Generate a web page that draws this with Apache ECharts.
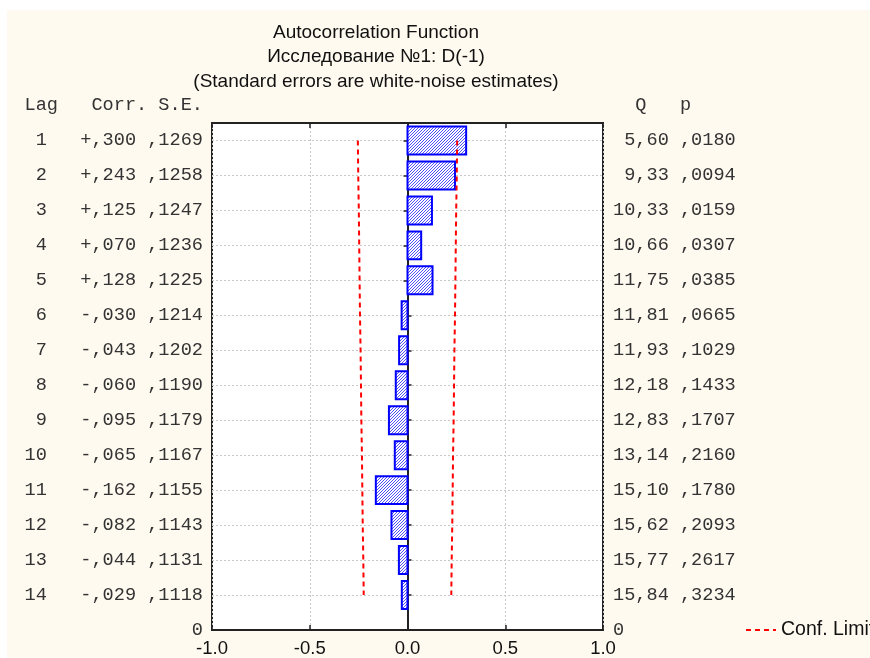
<!DOCTYPE html>
<html><head><meta charset="utf-8">
<script src="https://cdn.jsdelivr.net/npm/echarts@6/dist/echarts.min.js"></script>
<style>html,body{margin:0;padding:0;background:#fff}#c{width:870px;height:658px}</style>
</head><body><div id="c"></div>
<script>
const lags = [1,2,3,4,5,6,7,8,9,10,11,12,13,14];
const corr = [0.300,0.243,0.125,0.070,0.128,-0.030,-0.043,-0.060,-0.095,-0.065,-0.162,-0.082,-0.044,-0.029];
const corrText = ['+,300','+,243','+,125','+,070','+,128','-,030','-,043','-,060','-,095','-,065','-,162','-,082','-,044','-,029'];
const seText = [',1269',',1258',',1247',',1236',',1225',',1214',',1202',',1190',',1179',',1167',',1155',',1143',',1131',',1118'];
const qText = ['5,60','9,33','10,33','10,66','11,75','11,81','11,93','12,18','12,83','13,14','15,10','15,62','15,77','15,84'];
const pText = [',0180',',0094',',0159',',0307',',0385',',0665',',1029',',1433',',1707',',2160',',1780',',2093',',2617',',3234'];
const confUpper = [0.254,0.252,0.249,0.247,0.245,0.243,0.240,0.238,0.236,0.233,0.231,0.229,0.226,0.224];
const confLower = [-0.254,-0.252,-0.249,-0.247,-0.245,-0.243,-0.240,-0.238,-0.236,-0.233,-0.231,-0.229,-0.226,-0.224];
const xTicks = ['-1.0','-0.5','0.0','0.5','1.0'];
const titleLines = ['Autocorrelation Function','Исследование №1: D(-1)','(Standard errors are white-noise estimates)'];

const NROW = 15; // bottom row labelled 0
const pos = l => NROW - l;
const mono = "'Liberation Mono','Courier New',monospace";
const sans = "'Liberation Sans',Arial,sans-serif";

function pad(s, n){ s = String(s); while (s.length < n) s = ' ' + s; return s; }

const hatch = document.createElement('canvas');
hatch.width = 3; hatch.height = 3;
(function(){
  const g = hatch.getContext('2d');
  g.fillStyle = '#ffffff'; g.fillRect(0,0,3,3);
  g.fillStyle = '#5050ff';
  g.fillRect(2,0,1,1); g.fillRect(1,1,1,1); g.fillRect(0,2,1,1);
})();

const chart = echarts.init(document.getElementById('c'), null, {renderer:'canvas'});
const leftLabel = v => {
  if (Math.abs(v - Math.round(v)) > 1e-6) return '';
  if (v === 0) return '0';
  const l = NROW - v; const i = l - 1;
  if (i < 0 || i >= lags.length) return '';
  return pad(lags[i],2) + '   ' + corrText[i] + ' ' + seText[i];
};
const rightLabel = v => {
  if (Math.abs(v - Math.round(v)) > 1e-6) return '';
  if (v === 0) return '0';
  const l = NROW - v; const i = l - 1;
  if (i < 0 || i >= lags.length) return '';
  return pad(qText[i],5) + ' ' + pText[i];
};

const yBase = {
  type:'value', min:0, max:14.5, interval:1,
  axisLine:{show:true, lineStyle:{color:'#222', width:2}},
  axisTick:{show:true, inside:true, length:4, lineStyle:{color:'#222', width:1.5}},
  splitLine:{show:false}
};

chart.setOption({
  backgroundColor:'#ffffff',
  animation:false,
  graphic:[
    {type:'rect', left:7, top:10, z:-10, shape:{width:863, height:648}, style:{fill:'#fffaf0'}},
    {type:'text', x:376, y:33, style:{text:titleLines[0], font:"19px 'Liberation Sans',Arial,sans-serif", fill:'#111', textAlign:'center', textVerticalAlign:'middle'}},
    {type:'text', x:376, y:57, style:{text:titleLines[1], font:"19px 'Liberation Sans',Arial,sans-serif", fill:'#111', textAlign:'center', textVerticalAlign:'middle'}},
    {type:'text', x:376, y:82, style:{text:titleLines[2], font:"19px 'Liberation Sans',Arial,sans-serif", fill:'#111', textAlign:'center', textVerticalAlign:'middle'}},
    {type:'text', x:203, y:105, style:{text:'Lag   Corr. S.E.', font:"18.6px " + mono, fill:'#333', textAlign:'right', textVerticalAlign:'middle'}},
    {type:'text', x:613, y:105, style:{text:'  Q   p', font:"18.6px " + mono, fill:'#333', textAlign:'left', textVerticalAlign:'middle'}}
  ],
  grid:{left:212, right:267, top:123, bottom:26, show:true, backgroundColor:'#ffffff', borderColor:'#222', borderWidth:2},
  legend:{
    left:745, top:620, padding:0, itemWidth:30, itemHeight:14, itemGap:8,
    data:['Conf. Limit'],
    itemStyle:{color:'transparent', borderWidth:0, opacity:0},
    textStyle:{fontFamily:sans, fontSize:19.5, color:'#111'}
  },
  xAxis:[
    {type:'value', min:-1, max:1, interval:0.5, position:'bottom',
     axisLine:{show:true, onZero:false, lineStyle:{color:'#222', width:2}},
     axisTick:{show:true, inside:true, length:5, lineStyle:{color:'#222', width:1.5}},
     axisLabel:{margin:9, fontFamily:sans, fontSize:18.5, color:'#111', formatter:(v)=>{const i=Math.round((v+1)/0.5); return xTicks[i]||'';}},
     splitLine:{show:true, lineStyle:{color:'#c8c8c8', type:[2,2], width:1}}},
    {type:'value', min:-1, max:1, interval:0.5, position:'top',
     axisLine:{show:true, onZero:false, lineStyle:{color:'#222', width:2}},
     axisTick:{show:true, inside:true, length:5, lineStyle:{color:'#222', width:1.5}},
     axisLabel:{show:false}, splitLine:{show:false}}
  ],
  yAxis:[
    Object.assign({}, yBase, {position:'left',
      axisLabel:{margin:9, fontFamily:mono, fontSize:18.6, color:'#333', formatter:leftLabel},
      splitLine:{show:true, lineStyle:{color:'#c8c8c8', type:[2,2], width:1}}}),
    Object.assign({}, yBase, {position:'right',
      axisLabel:{margin:10, fontFamily:mono, fontSize:18.6, color:'#333', formatter:rightLabel}})
  ],
  series:[
    {
      type:'custom', name:'ACF', xAxisIndex:0, yAxisIndex:0, z:5,
      data: lags.map((l,i)=>[corr[i], pos(l)]),
      renderItem:(params, api)=>{
        const v = api.value(0), y = api.value(1);
        const p0 = api.coord([0, y]);
        const p1 = api.coord([v, y]);
        const h = api.size([0, 0.8])[1];
        return {type:'rect',
          shape:{x:Math.min(p0[0],p1[0]), y:p0[1]-h/2, width:Math.abs(p1[0]-p0[0]), height:h},
          style:{fill:{type:'pattern', image:hatch, repeat:'repeat'}, stroke:'#0000ff', lineWidth:2}};
      }
    },
    {
      type:'line', name:'Conf. Limit', xAxisIndex:0, yAxisIndex:0, z:6,
      data: lags.map((l,i)=>[confLower[i], pos(l)]),
      symbol:'none', showSymbol:false,
      lineStyle:{color:'#ff0000', width:2, type:[5,4]}, itemStyle:{color:'#ff0000'}
    },
    {
      type:'line', name:'Conf. Limit', xAxisIndex:0, yAxisIndex:0, z:6,
      data: lags.map((l,i)=>[confUpper[i], pos(l)]),
      symbol:'none', showSymbol:false,
      lineStyle:{color:'#ff0000', width:2, type:[5,4]}, itemStyle:{color:'#ff0000'}
    }
  ]
});
</script></body></html>
